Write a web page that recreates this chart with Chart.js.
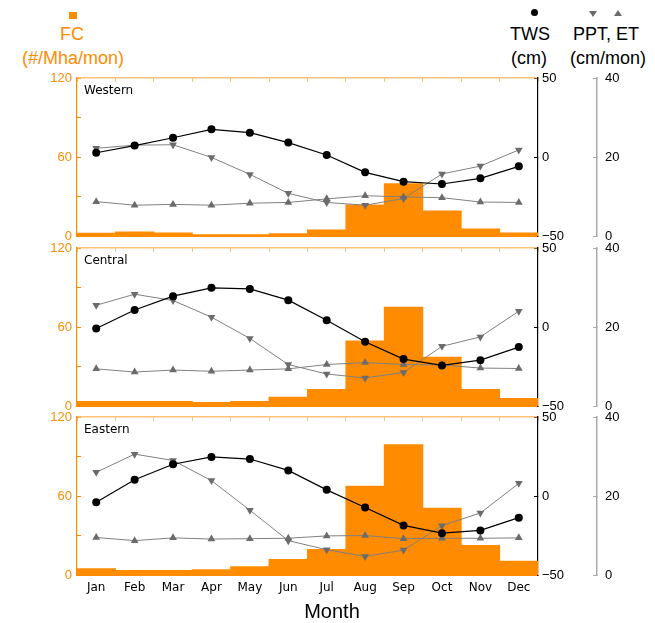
<!DOCTYPE html>
<html>
<head>
<meta charset="utf-8">
<script src="https://cdn.jsdelivr.net/npm/chart.js@4.4.0/dist/chart.umd.min.js"></script>
<style>
  body { margin: 0; background: #fff; }
  #page { position: relative; width: 655px; height: 623px; overflow: hidden; font-family: "Liberation Sans", Arial, sans-serif; }
  .box { position: absolute; left: 0; width: 655px; }
  .lbl { position: absolute; transform: translate(-50%, -50%); white-space: nowrap; font-size: 18px; line-height: 20px; }
  .name { position: absolute; font-family: "DejaVu Sans", sans-serif; font-size: 12px; color: #000; }
</style>
</head>
<body>
<div id="page">
  <div style="position:absolute;left:69px;top:12px;width:8px;height:7px;background:#ff8c00"></div>
  <div class="lbl" style="left:72px;top:34px;color:#ff8c00">FC</div>
  <div class="lbl" style="left:73px;top:58px;color:#ff8c00">(#/Mha/mon)</div>

  <div style="position:absolute;left:531px;top:9px;width:7px;height:7px;border-radius:50%;background:#000"></div>
  <div class="lbl" style="left:530px;top:34px;color:#000">TWS</div>
  <div class="lbl" style="left:529px;top:58px;color:#000">(cm)</div>

  <div style="position:absolute;left:589px;top:11px;width:0;height:0;border-left:4px solid transparent;border-right:4px solid transparent;border-top:6px solid #6b6b6b"></div>
  <div style="position:absolute;left:614px;top:10px;width:0;height:0;border-left:4px solid transparent;border-right:4px solid transparent;border-bottom:6px solid #6b6b6b"></div>
  <div class="lbl" style="left:606px;top:34px;color:#000">PPT, ET</div>
  <div class="lbl" style="left:608px;top:58px;color:#000">(cm/mon)</div>

  <div class="box" style="top:66px;height:182px"><canvas id="c1" width="655" height="182"></canvas></div>
  <div class="box" style="top:236px;height:182px"><canvas id="c2" width="655" height="182"></canvas></div>
  <div class="box" style="top:405px;height:200px"><canvas id="c3" width="655" height="200"></canvas></div>

  <div class="name" style="left:84px;top:83px">Western</div>
  <div class="name" style="left:84px;top:253px">Central</div>
  <div class="name" style="left:84px;top:422px">Eastern</div>

  <div class="lbl" style="left:332px;top:611px;font-size:20px;color:#000">Month</div>
</div>

<script>
const months = ['Jan', 'Feb', 'Mar', 'Apr', 'May', 'Jun', 'Jul', 'Aug', 'Sep', 'Oct', 'Nov', 'Dec'];

// Western
const fcWest = [2.0, 3.0, 2.3, 1.0, 1.0, 1.8, 4.6, 23.5, 39.7, 19.0, 5.3, 2.3];
const twsWest = [2.7, 7.2, 12.2, 17.5, 15.4, 9.1, 1.3, -9.7, -15.6, -17.1, -13.5, -5.9];
const pptWest = [22.2, 23.0, 23.1, 19.9, 15.6, 10.8, 8.5, 7.8, 9.5, 15.7, 17.7, 21.8];
const etWest = [8.7, 7.8, 8.0, 7.8, 8.3, 8.5, 9.4, 10.2, 9.9, 9.7, 8.6, 8.5];

// Central
const fcCentral = [3.4, 3.4, 3.4, 2.7, 3.4, 6.7, 12.6, 49.4, 75.0, 37.0, 12.6, 5.7];
const twsCentral = [-1.0, 10.8, 19.5, 24.8, 24.1, 17.0, 4.3, -9.3, -20.3, -24.3, -21.0, -12.7];
const pptCentral = [25.5, 28.3, 26.7, 22.5, 17.1, 10.5, 8.1, 7.1, 8.5, 15.1, 17.5, 24.0];
const etCentral = [9.4, 8.6, 9.1, 8.8, 9.1, 9.4, 10.5, 11.0, 10.5, 10.4, 9.6, 9.5];

// Eastern
const fcEast = [4.8, 3.5, 3.5, 4.0, 6.3, 11.7, 19.3, 67.5, 98.9, 50.7, 22.4, 10.4];
const twsEast = [-4.0, 10.3, 20.1, 24.7, 23.4, 16.2, 3.9, -7.3, -18.6, -23.5, -21.8, -13.7];
const pptEast = [26.0, 30.6, 29.0, 23.9, 16.4, 8.7, 6.4, 4.7, 6.3, 12.5, 15.7, 23.2];
const etEast = [9.5, 8.7, 9.4, 9.1, 9.2, 9.3, 9.9, 10.0, 9.2, 9.3, 9.3, 9.4];

const fcTicks = [0, 60, 120];

const orange = '#ff8c00'
const lightOrange = '#ffc078'
const grey = '#808080'
const markerGrey = '#6b6b6b'
const tickFont = { family: 'Liberation Sans', size: 13 }

// fixed axis width, and no extra label padding pushing the plot area in
function fixWidth(w) {
    return s => { s.width = w; s.paddingTop = 0; s.paddingBottom = 0; };
}

function makePanel(id, fc, tws, ppt, et, showMonths) {
    const ctx = document.getElementById(id);
    new Chart(ctx, {
        type: 'bar',
        data: {
            labels: months,
            datasets: [
                { type: 'line', data: tws, yAxisID: 'yTWS', borderColor: '#000', borderWidth: 1.2,
                  pointRadius: 4, pointBackgroundColor: '#000', pointBorderWidth: 0, tension: 0, order: 1 },
                { type: 'line', data: ppt, yAxisID: 'yP', borderColor: grey, borderWidth: 1,
                  pointStyle: 'triangle', pointRotation: 180, pointRadius: 4.5,
                  pointBackgroundColor: markerGrey, pointBorderColor: markerGrey, pointBorderWidth: 0, tension: 0, order: 2 },
                { type: 'line', data: et, yAxisID: 'yP', borderColor: grey, borderWidth: 1,
                  pointStyle: 'triangle', pointRadius: 4.5,
                  pointBackgroundColor: markerGrey, pointBorderColor: markerGrey, pointBorderWidth: 0, tension: 0, order: 3 },
                { type: 'bar', data: fc, yAxisID: 'yFC', backgroundColor: orange, borderWidth: 0,
                  barPercentage: 1, categoryPercentage: 1, inflateAmount: 0.5, order: 4 }
            ]
        },
        options: {
            responsive: false,
            animation: false,
            layout: { padding: { top: 12, bottom: showMonths ? 0 : 12, left: 0, right: 0 } },
            plugins: { legend: { display: false }, tooltip: { enabled: false } },
            scales: {
                x: {
                    type: 'category', position: 'bottom', offset: true,
                    grid: { drawOnChartArea: false, drawTicks: false, offset: true },
                    border: { color: orange },
                    ticks: { display: showMonths, color: '#000', padding: 6, maxRotation: 0, autoSkip: false,
                             font: { family: 'DejaVu Sans', size: 12 } },
                    afterFit: s => { s.height = showMonths ? 30 : 0; }
                },
                xTop: {
                    type: 'category', position: 'top', offset: true,
                    grid: { drawOnChartArea: false, offset: true, tickLength: -4, color: lightOrange },
                    border: { color: lightOrange, width: 1.5 },
                    ticks: { display: false },
                    afterFit: s => { s.height = 0; }
                },
                yFC: {
                    position: 'left', min: 0, max: 120,
                    grid: { drawOnChartArea: false, tickLength: -4, color: orange },
                    border: { color: orange, width: 1.2 },
                    ticks: { stepSize: 30, color: orange, padding: 9, font: tickFont,
                             callback: v => fcTicks.includes(v) ? v : '' },
                    afterFit: fixWidth(77)
                },
                yTWS: {
                    position: 'right', weight: 0, min: -50, max: 50,
                    grid: { drawOnChartArea: false, tickLength: -4, color: '#000' },
                    border: { color: '#000', width: 1.2 },
                    ticks: { stepSize: 50, color: '#000', padding: 8, font: tickFont,
                             callback: v => String(v).replace('-', '\u2212') },
                    afterFit: fixWidth(59)
                },
                yP: {
                    position: 'right', weight: 1, min: 0, max: 40,
                    grid: { drawOnChartArea: false, tickLength: -4, color: '#aaaaaa' },
                    border: { color: '#aaaaaa', width: 1.5 },
                    ticks: { stepSize: 20, color: '#000', padding: 12, font: tickFont },
                    afterFit: fixWidth(58)
                }
            }
        }
    });
}

makePanel('c1', fcWest, twsWest, pptWest, etWest, false)
makePanel('c2', fcCentral, twsCentral, pptCentral, etCentral, false)
makePanel('c3', fcEast, twsEast, pptEast, etEast, true)
</script>
</body>
</html>
